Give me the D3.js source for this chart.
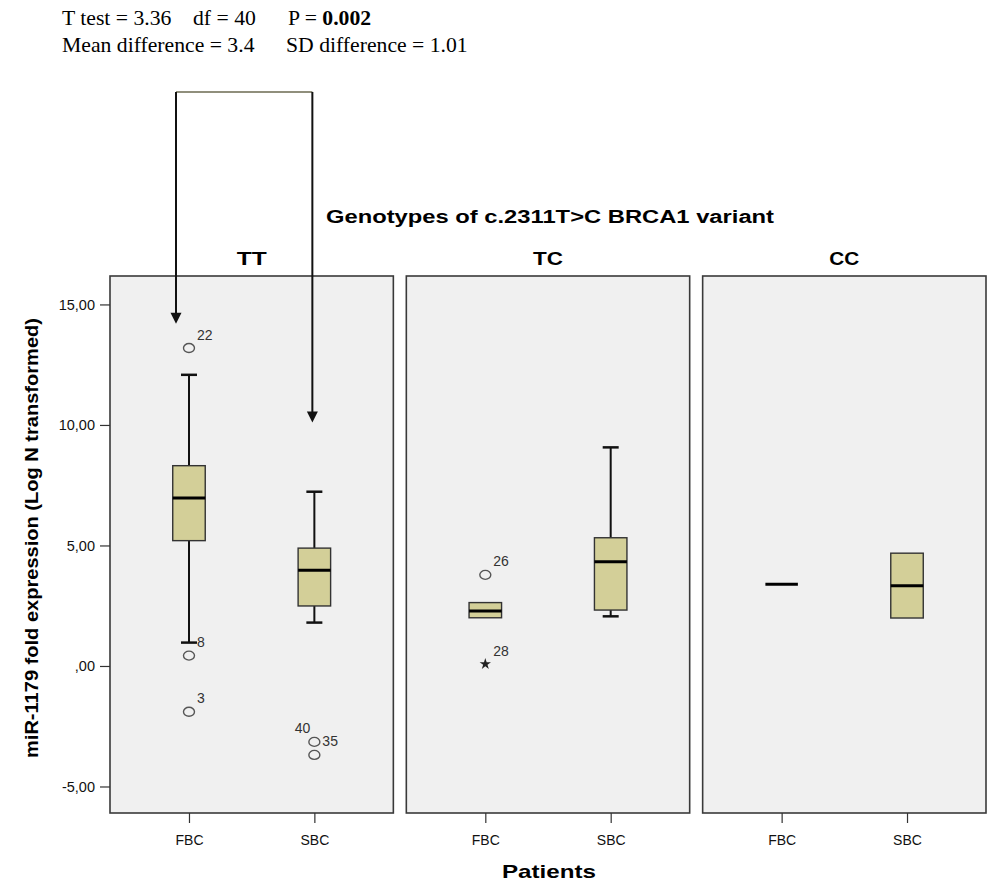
<!DOCTYPE html>
<html><head><meta charset="utf-8">
<script src="https://cdn.jsdelivr.net/npm/d3@7"></script>
<style>body{margin:0;background:#fff}svg{display:block}</style>
</head><body>
<svg id="c" width="987" height="882"></svg>
<script>
// ---- data ----
const genotypes = ["TT", "TC", "CC"];
const patients = ["FBC", "SBC"];
const yTicks = [15, 10, 5, 0, -5];
// box stats per genotype/patient: [whiskerLow, q1, median, q3, whiskerHigh]
const boxTT_FBC = [0.97, 5.20, 6.97, 8.31, 12.08];
const boxTT_SBC = [1.80, 2.49, 3.97, 4.89, 7.23];
const boxTC_FBC = [2.00, 2.00, 2.28, 2.63, 2.63];
const boxTC_SBC = [2.06, 2.32, 4.32, 5.32, 9.07];
const boxCC_FBC = [3.39, 3.39, 3.39, 3.39, 3.39];
const boxCC_SBC = [1.99, 1.99, 3.33, 4.68, 4.68];
const outlierGenotype = ["TT", "TT", "TT", "TT", "TT", "TC", "TC"];
const outlierPatient  = ["FBC", "FBC", "FBC", "SBC", "SBC", "FBC", "FBC"];
const outlierValue    = [13.19, 0.43, -1.90, -3.15, -3.69, 3.78, 0.08];
const outlierLabel    = ["22", "8", "3", "40", "35", "26", "28"];
const outlierSymbol   = ["circle", "circle", "circle", "circle", "circle", "circle", "star"];
const arrowTips = [14.2, 10.1]; // values where bracket arrows point (FBC, SBC in TT)

const boxes = [
  {g:"TT", p:"FBC", s:boxTT_FBC}, {g:"TT", p:"SBC", s:boxTT_SBC},
  {g:"TC", p:"FBC", s:boxTC_FBC}, {g:"TC", p:"SBC", s:boxTC_SBC},
  {g:"CC", p:"FBC", s:boxCC_FBC}, {g:"CC", p:"SBC", s:boxCC_SBC}
];
const outliers = outlierValue.map((v,i)=>({g:outlierGenotype[i], p:outlierPatient[i], v, label:outlierLabel[i], sym:outlierSymbol[i]}));

// ---- layout ----
const svg = d3.select("#c");
const plotTop = 276, plotBottom = 813;
const y = d3.scaleLinear().domain([-6.10, 16.18]).range([plotBottom, plotTop]);
const xG = d3.scaleBand().domain(genotypes).range([110, 986]).paddingInner(0.0438);
const xP = d3.scalePoint().domain(patients).range([0, xG.bandwidth()]).padding(0.63);
const cx = (g,p) => xG(g) + xP(p);
const boxW = 32.5, capW = 16;
const sans = "Liberation Sans, Arial, sans-serif";

// top stats text
const st = svg.append("g").attr("font-family","Liberation Serif, Times New Roman, serif").attr("font-size",21.7).attr("fill","#000");
st.append("text").attr("x",62).attr("y",25).text("T test = 3.36");
st.append("text").attr("x",193).attr("y",25).text("df = 40");
const pt = st.append("text").attr("x",288).attr("y",25);
pt.append("tspan").text("P = ");
pt.append("tspan").attr("font-weight","bold").text("0.002");
st.append("text").attr("x",62).attr("y",51.5).text("Mean difference = 3.4");
st.append("text").attr("x",286).attr("y",51.5).text("SD difference = 1.01");

// title
svg.append("text").attr("x",550).attr("y",223).attr("text-anchor","middle")
  .attr("font-family",sans).attr("font-weight","bold").attr("font-size",18)
  .attr("textLength",448).attr("lengthAdjust","spacingAndGlyphs")
  .text("Genotypes of c.2311T>C BRCA1 variant");

// panels
genotypes.forEach(g=>{
  svg.append("rect").attr("x",xG(g)).attr("y",plotTop).attr("width",xG.bandwidth()).attr("height",plotBottom-plotTop)
    .attr("fill","#f0f0f0").attr("stroke","#3a3a3a").attr("stroke-width",1.6);
  svg.append("text").attr("x",xG(g)+xG.bandwidth()/2).attr("y",265).attr("text-anchor","middle")
    .attr("font-family",sans).attr("font-weight","bold").attr("font-size",18)
    .attr("textLength",30).attr("lengthAdjust","spacingAndGlyphs").text(g);
  const ax = svg.append("g").attr("transform",`translate(${xG(g)},${plotBottom})`)
    .call(d3.axisBottom(xP).tickSize(10).tickPadding(12));
  ax.select(".domain").remove();
  ax.selectAll(".tick line").attr("stroke","#333").attr("stroke-width",1.2);
  ax.selectAll(".tick text").attr("font-family","Liberation Sans Narrow, Arial Narrow, "+sans).attr("font-size",14).attr("fill","#111");
});

// y axis
const ay = svg.append("g").attr("transform",`translate(110,0)`)
  .call(d3.axisLeft(y).tickValues(yTicks).tickSize(10).tickPadding(5)
    .tickFormat(d => d===0 ? ",00" : d3.format(".2f")(d).replace(".",",").replace("\u2212","-")));
ay.select(".domain").remove();
ay.selectAll(".tick line").attr("stroke","#333").attr("stroke-width",1.2);
ay.selectAll(".tick text").attr("font-family",sans).attr("font-size",14.5).attr("fill","#111");

svg.append("text").attr("transform","translate(38,538) rotate(-90)").attr("text-anchor","middle")
  .attr("font-family",sans).attr("font-weight","bold").attr("font-size",18.5)
  .attr("textLength",440).attr("lengthAdjust","spacingAndGlyphs")
  .text("miR-1179 fold expression (Log N transformed)");

svg.append("text").attr("x",549).attr("y",878).attr("text-anchor","middle")
  .attr("font-family",sans).attr("font-weight","bold").attr("font-size",19)
  .attr("textLength",94).attr("lengthAdjust","spacingAndGlyphs").text("Patients");

// boxes
boxes.forEach(b=>{
  const x = cx(b.g,b.p), [lo,q1,md,q3,hi] = b.s;
  const gg = svg.append("g");
  if (q3 > q1) {
    gg.append("line").attr("x1",x).attr("x2",x).attr("y1",y(hi)).attr("y2",y(q3)).attr("stroke","#111").attr("stroke-width",2);
    gg.append("line").attr("x1",x).attr("x2",x).attr("y1",y(q1)).attr("y2",y(lo)).attr("stroke","#111").attr("stroke-width",2);
    if (hi > q3) gg.append("line").attr("x1",x-capW/2).attr("x2",x+capW/2).attr("y1",y(hi)).attr("y2",y(hi)).attr("stroke","#111").attr("stroke-width",2.5);
    if (lo < q1) gg.append("line").attr("x1",x-capW/2).attr("x2",x+capW/2).attr("y1",y(lo)).attr("y2",y(lo)).attr("stroke","#111").attr("stroke-width",2.5);
    gg.append("rect").attr("x",x-boxW/2).attr("y",y(q3)).attr("width",boxW).attr("height",y(q1)-y(q3))
      .attr("fill","#d3cf98").attr("stroke","#333").attr("stroke-width",1.4);
  }
  gg.append("line").attr("x1",x-boxW/2).attr("x2",x+boxW/2).attr("y1",y(md)).attr("y2",y(md)).attr("stroke","#000").attr("stroke-width",3);
});

// outliers
outliers.forEach(o=>{
  const x = cx(o.g,o.p), yy = y(o.v);
  if (o.sym === "star") {
    svg.append("path").attr("d",d3.symbol(d3.symbolStar,40)()).attr("transform",`translate(${x},${yy})`).attr("fill","#222");
  } else {
    svg.append("ellipse").attr("cx",x).attr("cy",yy).attr("rx",5.5).attr("ry",4.5).attr("fill","none").attr("stroke","#555").attr("stroke-width",1.4);
  }
  const left = o.label === "40";
  svg.append("text").attr("x", left ? x-4 : x+8).attr("y", yy-8.5)
    .attr("text-anchor", left ? "end" : "start")
    .attr("font-family",sans).attr("font-size",14).attr("fill","#333").text(o.label);
});

// bracket with arrows
const bx = [cx("TT","FBC")-13, cx("TT","SBC")-2];
const bTop = 92;
svg.append("line").attr("x1",bx[0]).attr("x2",bx[1]).attr("y1",bTop).attr("y2",bTop).attr("stroke","#6b6a50").attr("stroke-width",1.3);
bx.forEach((x,i)=>{
  const tip = y(arrowTips[i]);
  svg.append("line").attr("x1",x).attr("x2",x).attr("y1",bTop).attr("y2",tip-9).attr("stroke","#111").attr("stroke-width",2);
  svg.append("path").attr("d",`M${x-5.5},${tip-11}L${x+5.5},${tip-11}L${x},${tip}Z`).attr("fill","#111");
});
</script>
</body></html>
